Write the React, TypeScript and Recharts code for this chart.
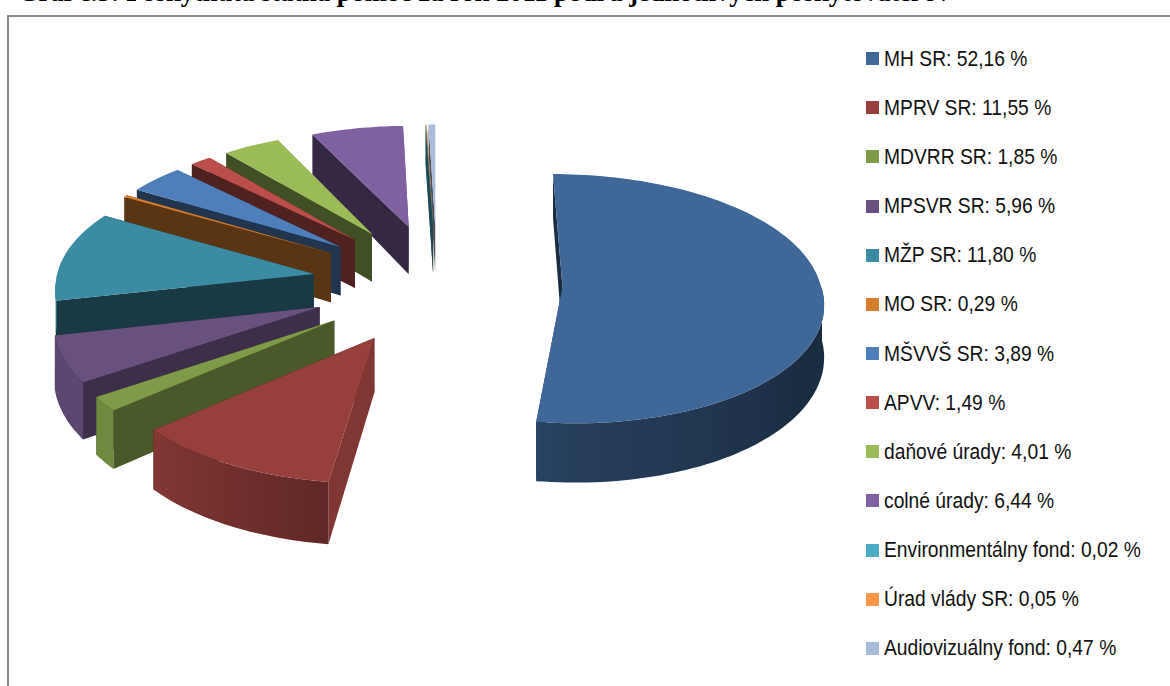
import { PieChart, Pie, Cell, Legend } from 'recharts';

const names = [
  'MH SR', 'MPRV SR', 'MDVRR SR', 'MPSVR SR', 'MŽP SR', 'MO SR', 'MŠVVŠ SR', 'APVV',
  'daňové úrady', 'colné úrady', 'Environmentálny fond', 'Úrad vlády SR', 'Audiovizuálny fond',
];
const shares = [52.16, 11.55, 1.85, 5.96, 11.8, 0.29, 3.89, 1.49, 4.01, 6.44, 0.02, 0.05, 0.47];
const colors = [
  '#3f6899', '#963f3c', '#7f9a48', '#69517f', '#3b8ba3', '#d67d2e', '#4f7fbb', '#bb4e4a',
  '#9bbb59', '#7f60a0', '#4bacc6', '#f79646', '#a9bbdb',
];

// reversed so the far slices paint first and the big front ones land on top
const pieData = names.map((name, i) => ({ name, value: shares[i], color: colors[i] })).reverse();

const toRad = Math.PI / 180;
const EXPLODE = 0.486;

function darken(hex: string, k: number) {
  const n = parseInt(hex.slice(1), 16);
  const c = [(n >> 16) & 255, (n >> 8) & 255, n & 255].map((v) => Math.round(v * k));
  return `rgb(${c[0]},${c[1]},${c[2]})`;
}

// wall brightness from which way it faces (degrees clockwise from the back)
function arcShade(theta: number) {
  if (theta <= 120) return 0.42;
  if (theta <= 180) return 0.42 + ((theta - 120) / 60) * 0.18;
  if (theta <= 230) return 0.6 + ((theta - 180) / 50) * 0.27;
  return 0.88;
}

function sideShade(normal: number) {
  const n = ((normal % 360) + 360) % 360;
  if (n > 60 && n < 120) return 0.85;
  if (n >= 120 && n < 150) return 0.58;
  return 0.42;
}

function Slice3D(props: any) {
  const { cx, cy, outerRadius: R, startAngle, endAngle, fill } = props;
  const a1 = Math.min(startAngle, endAngle);
  const a2 = Math.max(startAngle, endAngle);
  const mid = ((a1 + a2) / 2) * toRad;
  const ox = EXPLODE * Math.cos(mid);
  const oy = -EXPLODE * Math.sin(mid);

  // ground plane -> screen, nearer things a bit bigger
  const project = (X: number, Y: number, low = false) => ({
    x: cx + R * X * (1 + (Y > 0 ? 0.1 : 0.075) * Y),
    y: cy + R * (0.48 * Y + 0.045 * Y * Y) + (low ? 51 + 8 * Y : 0),
  });
  const str = (p: { x: number; y: number }) => `${p.x.toFixed(1)},${p.y.toFixed(1)}`;

  const steps = Math.max(2, Math.ceil((a2 - a1) / 1.5));
  const rim = [];
  for (let i = 0; i <= steps; i++) {
    const a = a1 + ((a2 - a1) * i) / steps;
    rim.push({ a, X: ox + Math.cos(a * toRad), Y: oy - Math.sin(a * toRad) });
  }
  const first = rim[0];
  const last = rim[rim.length - 1];

  const walls: { pts: string; y: number; fill: string }[] = [];

  // only the part of the rim that faces the viewer
  const front = rim.filter((p) => p.a >= 180 && p.a <= 360);
  let gradient = null;
  if (front.length > 1) {
    const id = `arc-${Math.round(a1 * 100)}`;
    const tops = front.map((p) => project(p.X, p.Y));
    const lows = front.map((p) => project(p.X, p.Y, true));
    const x0 = tops[0].x;
    const x1 = tops[tops.length - 1].x;
    gradient = (
      <linearGradient id={id} gradientUnits="userSpaceOnUse" x1={x0} y1={0} x2={x1} y2={0}>
        {front.map((p, i) =>
          i % 4 === 0 || i === front.length - 1 ? (
            <stop
              key={i}
              offset={(tops[i].x - x0) / (x1 - x0 || 1)}
              stopColor={darken(fill, arcShade(90 - p.a + 360))}
            />
          ) : null
        )}
      </linearGradient>
    );
    walls.push({
      pts: [...tops, ...lows.reverse()].map(str).join(' '),
      y: front.reduce((s, p) => s + p.Y, 0) / front.length,
      fill: `url(#${id})`,
    });
  }

  [
    { e: first, normal: 90 - a1 + 90 },
    { e: last, normal: 90 - a2 - 90 },
  ].forEach(({ e, normal }) => {
    walls.push({
      pts: [project(ox, oy), project(e.X, e.Y), project(e.X, e.Y, true), project(ox, oy, true)].map(str).join(' '),
      y: (oy + e.Y) / 2,
      fill: darken(fill, sideShade(normal)),
    });
  });
  walls.sort((w1, w2) => w1.y - w2.y);

  const top = [project(ox, oy), ...rim.map((p) => project(p.X, p.Y))].map(str).join(' ');

  return (
    <g>
      {gradient && <defs>{gradient}</defs>}
      {walls.map((w, i) => (
        <polygon key={i} points={w.pts} fill={w.fill} />
      ))}
      <polygon points={top} fill={fill} />
    </g>
  );
}

function LegendList({ payload }: any) {
  const items = [...(payload || [])].reverse();
  return (
    <div style={{ fontFamily: '"Liberation Sans", sans-serif', fontSize: 22, color: '#111' }}>
      {items.map((item: any) => (
        <div key={item.value} style={{ display: 'flex', alignItems: 'center', height: 49.17, whiteSpace: 'nowrap' }}>
          <span style={{ width: 13, height: 13, background: item.color, marginRight: 5, flexShrink: 0 }} />
          <span style={{ display: 'inline-block', transform: 'scaleX(0.875)', transformOrigin: 'left center' }}>
            {item.value}: {item.payload.value.toFixed(2).replace('.', ',')} %
          </span>
        </div>
      ))}
    </div>
  );
}

export default function App() {
  return (
    <div style={{ position: 'absolute', left: 0, top: 0, width: 1170, height: 686, overflow: 'hidden', background: '#fff' }}>
      <div
        style={{
          position: 'absolute',
          left: 18,
          top: -23,
          fontFamily: '"Liberation Serif", serif',
          fontWeight: 'bold',
          fontSize: 26.5,
          whiteSpace: 'nowrap',
          color: '#000',
        }}
      >
        Graf č.5: Poskytnutá štátna pomoc za rok 2011 podľa jednotlivých poskytovateľov
      </div>
      <div
        style={{
          position: 'absolute',
          left: 7,
          top: 15,
          width: 1300,
          height: 900,
          border: '2px solid #8a8a8a',
        }}
      />
      <div style={{ position: 'absolute', left: 0, top: 0 }}>
        <PieChart width={1170} height={686} margin={{ top: 0, right: 0, bottom: 0, left: 0 }}>
          <Pie
            data={pieData}
            dataKey="value"
            nameKey="name"
            cx={437}
            cy={283}
            outerRadius={258}
            startAngle={90}
            endAngle={450}
            stroke="none"
            shape={Slice3D}
            isAnimationActive={false}
          >
            {pieData.map((entry) => (
              <Cell key={entry.name} fill={entry.color} />
            ))}
          </Pie>
          <Legend
            layout="vertical"
            align="right"
            verticalAlign="top"
            itemSorter={null}
            content={LegendList}
            wrapperStyle={{ left: 866, top: 34, width: 300 }}
          />
        </PieChart>
      </div>
    </div>
  );
}
